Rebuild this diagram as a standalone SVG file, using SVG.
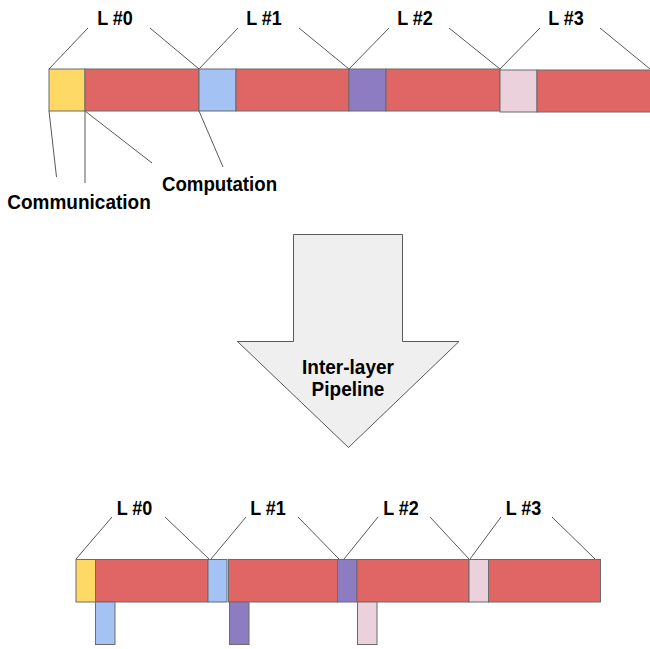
<svg xmlns="http://www.w3.org/2000/svg" width="650" height="649" viewBox="0 0 650 649">
<style>
.seg{stroke:#6b6b6b;stroke-width:1}
.comm{fill:#ffd966}
.comp{fill:#e06666}
.b{fill:#a4c2f4}
.p{fill:#8e7cc3}
.k{fill:#ead1dc}
.lbl{font-family:"Liberation Sans",Arial,sans-serif;font-weight:bold;font-size:18px;fill:#000;text-anchor:middle}
.ld{stroke:#595959;stroke-width:1;fill:none}
</style>
<rect width="650" height="649" fill="#fff"/>
<g id="connectors">
<line class="ld" x1="49" y1="69" x2="88" y2="28"/>
<line class="ld" x1="150" y1="28" x2="199" y2="69"/>
<line class="ld" x1="199" y1="69" x2="238" y2="28"/>
<line class="ld" x1="299" y1="28" x2="349" y2="69"/>
<line class="ld" x1="349" y1="69" x2="389" y2="28"/>
<line class="ld" x1="449" y1="28" x2="500" y2="69"/>
<line class="ld" x1="500" y1="69" x2="540" y2="28"/>
<line class="ld" x1="600" y1="28" x2="650" y2="69"/>
<line class="ld" x1="49" y1="111" x2="56.5" y2="177"/>
<line class="ld" x1="85" y1="111" x2="85" y2="183"/>
<line class="ld" x1="85" y1="111" x2="152" y2="163"/>
<line class="ld" x1="199" y1="111" x2="223" y2="167"/>
<line class="ld" x1="76" y1="559" x2="112" y2="517"/>
<line class="ld" x1="165" y1="517" x2="209" y2="559"/>
<line class="ld" x1="211" y1="559" x2="246" y2="517"/>
<line class="ld" x1="298" y1="517" x2="339" y2="559"/>
<line class="ld" x1="344" y1="559" x2="378" y2="517"/>
<line class="ld" x1="430" y1="517" x2="469" y2="559"/>
<line class="ld" x1="470" y1="559" x2="501" y2="517"/>
<line class="ld" x1="552" y1="517" x2="595" y2="559"/>
</g>
<g id="top-bar">
<rect class="seg comm" x="49" y="69" width="36" height="42"/>
<rect class="seg comp" x="85" y="69" width="114" height="42"/>
<rect class="seg b" x="199" y="69" width="37" height="42"/>
<rect class="seg comp" x="236" y="69" width="113" height="42"/>
<rect class="seg p" x="349" y="69" width="37" height="42"/>
<rect class="seg comp" x="386" y="69" width="114" height="42"/>
<rect class="seg k" x="500" y="70" width="37" height="42"/>
<rect class="seg comp" x="537" y="70" width="114" height="42"/>
</g>
<g id="top-labels">
<text class="lbl" transform="translate(115,24.5) scale(1,1.12)">L #0</text>
<text class="lbl" transform="translate(264,24.5) scale(1,1.12)">L #1</text>
<text class="lbl" transform="translate(415,24.5) scale(1,1.12)">L #2</text>
<text class="lbl" transform="translate(566,24.5) scale(1,1.12)">L #3</text>
</g>
<g id="communication-label"><text class="lbl" transform="translate(79,208.5) scale(1,1.1)" style="font-size:19px">Communication</text></g>
<g id="computation-label"><text class="lbl" transform="translate(219.5,190.5) scale(1,1.1)" style="font-size:18.7px">Computation</text></g>
<g id="pipeline-arrow">
<path d="M293.5,234.5 H402.5 V341.5 H459 L348.5,447.5 L237.5,341.5 H293.5 Z" fill="#efefef" stroke="#595959" stroke-width="1"/>
<text class="lbl" transform="translate(348,373.5) scale(1,1.1)" style="font-size:19px">Inter-layer</text>
<text class="lbl" transform="translate(348,395.5) scale(1,1.1)" style="font-size:19px">Pipeline</text>
</g>
<g id="bottom-bar">
<rect class="seg comm" x="76" y="559.5" width="19.5" height="42.5"/>
<rect class="seg comp" x="95.5" y="559.5" width="112.5" height="42.5"/>
<rect class="seg b" x="208" y="559.5" width="19" height="42.5"/>
<rect class="seg comp" x="228.5" y="559.5" width="109" height="42.5"/>
<rect class="seg p" x="337.5" y="559.5" width="19.5" height="42.5"/>
<rect class="seg comp" x="357" y="559.5" width="112" height="42.5"/>
<rect class="seg k" x="469" y="559.5" width="19.5" height="42.5"/>
<rect class="seg comp" x="488.5" y="559.5" width="112" height="42.5"/>
</g>
<g id="bottom-comm">
<rect class="seg b" x="95.5" y="602" width="19.5" height="42.5"/>
<rect class="seg p" x="229.5" y="602" width="19.5" height="42.5"/>
<rect class="seg k" x="357.5" y="602" width="19.5" height="42.5"/>
</g>
<g id="bottom-labels">
<text class="lbl" transform="translate(134.5,514.5) scale(1,1.12)">L #0</text>
<text class="lbl" transform="translate(268,514.5) scale(1,1.12)">L #1</text>
<text class="lbl" transform="translate(401,514.5) scale(1,1.12)">L #2</text>
<text class="lbl" transform="translate(523.5,514.5) scale(1,1.12)">L #3</text>
</g>
</svg>
